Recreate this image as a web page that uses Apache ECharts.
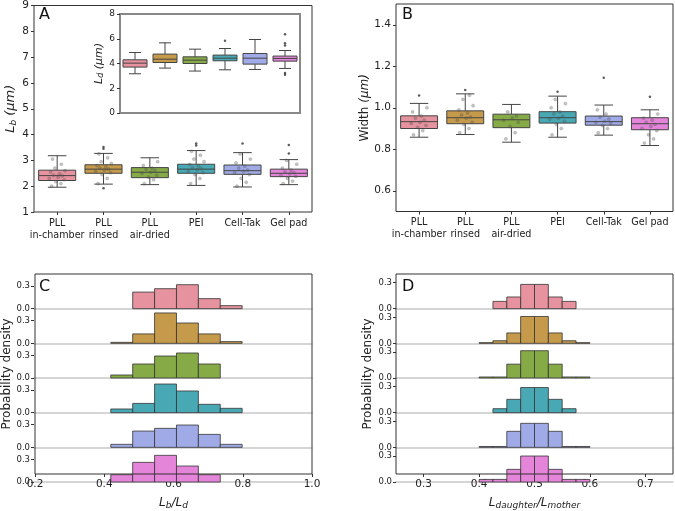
<!DOCTYPE html>
<html><head><meta charset="utf-8">
<script src="https://cdn.jsdelivr.net/npm/echarts@6/dist/echarts.min.js"></script>
<style>html,body{margin:0;padding:0;background:#fff}#c{width:675px;height:511px}</style>
</head><body><div id="c"></div>
<script>
// ---------- data ----------
const categories = ['PLL\nin-chamber','PLL\nrinsed','PLL\nair-dried','PEI','Cell-Tak','Gel pad'];
const palette = ['#e6929f','#c59a4b','#86aa46','#48a9b5','#a0aae6','#e585da'];
// [lower whisker, Q1, median, Q3, upper whisker]
const lbBox = [[1.96,2.22,2.41,2.62,3.18],[2.08,2.5,2.66,2.83,3.27],[2.06,2.33,2.54,2.72,3.1],[2.03,2.5,2.66,2.85,3.38],[1.97,2.46,2.6,2.82,3.3],[2.06,2.37,2.5,2.66,3.03]];
const lbOut = [[1,1.92],[1,3.45],[1,3.52],[3,3.58],[3,3.65],[4,3.65],[5,3.6],[5,3.27]];
const lbPoints = [
  [2.0, 2.1, 2.18, 2.25, 2.3, 2.35, 2.4, 2.42, 2.48, 2.55, 2.6, 2.7, 2.85, 3.05],
  [2.1, 2.3, 2.45, 2.52, 2.58, 2.62, 2.66, 2.7, 2.75, 2.8, 2.88, 2.95, 3.1, 3.25],
  [2.1, 2.25, 2.35, 2.42, 2.5, 2.55, 2.6, 2.65, 2.7, 2.8, 2.95],
  [2.1, 2.3, 2.45, 2.52, 2.58, 2.63, 2.68, 2.72, 2.78, 2.85, 2.95, 3.05, 3.2, 3.35],
  [2.0, 2.15, 2.3, 2.45, 2.52, 2.58, 2.62, 2.7, 2.78, 2.9, 3.05, 3.25],
  [2.1, 2.2, 2.3, 2.38, 2.42, 2.48, 2.52, 2.56, 2.62, 2.7, 2.85, 3.0]
];
const ldBox = [[3.17,3.71,4.03,4.3,4.89],[3.63,4.08,4.35,4.76,5.67],[3.39,4.0,4.27,4.54,5.16],[3.49,4.22,4.43,4.68,5.21],[3.52,3.95,4.43,4.81,5.94],[3.6,4.19,4.41,4.6,5.05]];
const ldOut = [[3,5.83],[5,6.37],[5,5.64],[5,5.45],[5,3.23],[5,3.1]];
const widthBox = [[0.858,0.90,0.933,0.961,1.021],[0.871,0.923,0.952,0.985,1.067],[0.834,0.904,0.942,0.969,1.016],[0.858,0.926,0.952,0.981,1.056],[0.868,0.916,0.933,0.96,1.013],[0.818,0.894,0.923,0.952,0.99]];
const widthOut = [[0,1.059],[1,1.085],[3,1.077],[4,1.145],[5,1.053]];
const widthPoints = [
  [0.87, 0.89, 0.905, 0.915, 0.925, 0.93, 0.94, 0.95, 0.96, 0.98, 1.0],
  [0.88, 0.9, 0.92, 0.93, 0.94, 0.95, 0.955, 0.965, 0.975, 0.99, 1.01, 1.04, 1.06],
  [0.85, 0.88, 0.91, 0.93, 0.94, 0.95, 0.96, 0.98],
  [0.87, 0.9, 0.92, 0.935, 0.945, 0.95, 0.96, 0.97, 0.98, 1.0, 1.02, 1.04],
  [0.88, 0.9, 0.915, 0.925, 0.93, 0.935, 0.945, 0.955, 0.97, 0.99],
  [0.83, 0.85, 0.87, 0.89, 0.9, 0.91, 0.92, 0.93, 0.94, 0.95, 0.97]
];
const stripJitter = [-0.12, 0.08, -0.03, 0.15, -0.17, 0.02, 0.11, -0.08, 0.05, -0.14, 0.17, -0.05, 0.09, -0.1];
const ratioEdges = [0.421,0.484,0.547,0.610,0.673,0.736,0.799];
const ratioHist = [
  [0, 0.22, 0.265, 0.318, 0.133, 0.04],
  [0.013, 0.125, 0.403, 0.27, 0.125, 0.023],
  [0.04, 0.186, 0.292, 0.332, 0.186, 0],
  [0.049, 0.123, 0.38, 0.288, 0.111, 0.058],
  [0.04, 0.216, 0.252, 0.296, 0.172, 0.04],
  [0.097, 0.261, 0.354, 0.212, 0.097, 0]
];
const divEdges = [0.400,0.425,0.450,0.475,0.500,0.525,0.550,0.575,0.600];
const divHist = [
  [0, 0.084, 0.135, 0.28, 0.28, 0.135, 0.084, 0],
  [0.008, 0.03, 0.12, 0.31, 0.31, 0.12, 0.03, 0.008],
  [0.012, 0.012, 0.16, 0.315, 0.315, 0.16, 0.012, 0.012],
  [0, 0.046, 0.154, 0.29, 0.29, 0.154, 0.046, 0],
  [0.01, 0.01, 0.185, 0.277, 0.277, 0.185, 0.01, 0.01],
  [0.03, 0.03, 0.146, 0.30, 0.30, 0.146, 0.03, 0.03]
];
const lbTicks = [1,2,3,4,5,6,7,8,9];
const ldTicks = [0,2,4,6,8];
const widthTicks = [0.6,0.8,1.0,1.2,1.4];
const ratioTicks = [0.2,0.4,0.6,0.8,1.0];
const divTicks = [0.3,0.4,0.5,0.6,0.7];
const densTicks = [0,0.3];

// ---------- style ----------
const FONT = 'DejaVu Sans';
const DARK = '#333';
const EDGE = '#444';
const lab = {fontFamily: FONT, fontSize: 10.5, color: '#222'};

const grid = [], xAxis = [], yAxis = [], series = [];

function boxRender(params, api) {
  const i = api.value(0);
  const bw = api.size([1, 0])[0];
  const w = bw * 0.8, cx = api.coord([i, 0])[0];
  const lo = api.coord([i, api.value(1)])[1];
  const q1 = api.coord([i, api.value(2)])[1];
  const md = api.coord([i, api.value(3)])[1];
  const q3 = api.coord([i, api.value(4)])[1];
  const hi = api.coord([i, api.value(5)])[1];
  const ls = {stroke: EDGE, lineWidth: 1};
  return {type: 'group', children: [
    {type: 'line', shape: {x1: cx, y1: hi, x2: cx, y2: q3}, style: ls},
    {type: 'line', shape: {x1: cx, y1: q1, x2: cx, y2: lo}, style: ls},
    {type: 'line', shape: {x1: cx - w/4, y1: hi, x2: cx + w/4, y2: hi}, style: ls},
    {type: 'line', shape: {x1: cx - w/4, y1: lo, x2: cx + w/4, y2: lo}, style: ls},
    {type: 'rect', shape: {x: cx - w/2, y: q3, width: w, height: q1 - q3}, style: {fill: palette[i], stroke: EDGE, lineWidth: 1}},
    {type: 'line', shape: {x1: cx - w/2, y1: md, x2: cx + w/2, y2: md}, style: ls}
  ]};
}
function stripRender(params, api) {
  const i = api.value(0), j = api.value(2);
  const bw = api.size([1, 0])[0];
  const p = api.coord([i, api.value(1)]);
  return {type: 'circle', shape: {cx: p[0] + j * bw, cy: p[1], r: 1.6},
    style: {fill: 'rgba(90,90,90,0.35)', stroke: 'rgba(60,60,60,0.3)', lineWidth: 0.5}};
}
function addBoxPanel(g, box, out, pts) {
  const gi = grid.length;
  grid.push(g.grid);
  xAxis.push({type: 'category', gridIndex: gi, data: categories,
    axisLine: {show: false}, axisTick: {show: g.xLabels, alignWithLabel: true, length: 3, lineStyle: {color: DARK}},
    axisLabel: Object.assign({show: g.xLabels, interval: 0, lineHeight: 12, margin: 5}, lab, {fontSize: 9.6})});
  yAxis.push({type: 'value', gridIndex: gi, min: g.min, max: g.max,
    splitLine: {show: false}, axisLine: {show: false},
    axisTick: {show: true, length: 3, lineStyle: {color: DARK}, customValues: g.ticks},
    axisLabel: Object.assign({customValues: g.ticks, margin: 5, formatter: g.fmt}, lab, {fontSize: g.tickSize || 10.5}),
    name: g.name, nameLocation: 'middle', nameGap: g.nameGap, nameRotate: 90,
    nameTextStyle: g.nameStyle});
  series.push({type: 'custom', xAxisIndex: gi, yAxisIndex: gi, renderItem: boxRender,
    data: box.map((b, i) => [i].concat(b)), z: 3});
  if (pts) {
    const sd = [];
    pts.forEach((arr, i) => arr.forEach((v, k) => sd.push([i, v, stripJitter[k % stripJitter.length]])));
    series.push({type: 'custom', xAxisIndex: gi, yAxisIndex: gi, renderItem: stripRender, data: sd, z: 4});
  }
  series.push({type: 'scatter', xAxisIndex: gi, yAxisIndex: gi, symbolSize: 2.5,
    itemStyle: {color: '#333'}, data: out, z: 5});
}

addBoxPanel({grid: {left: 34, top: 4, width: 278, height: 208, show: true, borderColor: DARK, borderWidth: 1},
  min: 1, max: 9, ticks: lbTicks, xLabels: true, fmt: v => String(v), nameGap: 16,
  name: '{i|L}{s|b} {i|(μm)}', nameStyle: {fontFamily: FONT, fontSize: 13, color: '#222',
    rich: {i: {fontStyle: 'italic', fontSize: 13, fontFamily: FONT}, s: {fontStyle: 'italic', fontSize: 9, fontFamily: FONT, padding: [6, 0, 0, 0]}}}}, lbBox, lbOut, lbPoints);
addBoxPanel({grid: {left: 120, top: 14, width: 180, height: 99, show: true, borderColor: '#888', borderWidth: 2, backgroundColor: '#fff'},
  min: 0, max: 8, ticks: ldTicks, xLabels: false, fmt: v => String(v), nameGap: 12, tickSize: 9,
  name: '{i|L}{s|d} {i|(μm)}', nameStyle: {fontFamily: FONT, fontSize: 11, color: '#222',
    rich: {i: {fontStyle: 'italic', fontSize: 11, fontFamily: FONT}, s: {fontStyle: 'italic', fontSize: 8, fontFamily: FONT, padding: [5, 0, 0, 0]}}}}, ldBox, ldOut, null);
addBoxPanel({grid: {left: 396, top: 4, width: 277, height: 207.5, show: true, borderColor: DARK, borderWidth: 1},
  min: 0.5, max: 1.5, ticks: widthTicks, xLabels: true, fmt: v => v.toFixed(1), nameGap: 22,
  name: 'Width {i|(μm)}', nameStyle: {fontFamily: FONT, fontSize: 12, color: '#222',
    rich: {i: {fontStyle: 'italic', fontSize: 12, fontFamily: FONT}}}}, widthBox, widthOut, widthPoints);

function histRender(params, api) {
  const a = api.coord([api.value(0), 0]);
  const b = api.coord([api.value(1), api.value(2)]);
  return {type: 'rect', shape: {x: a[0], y: b[1], width: b[0] - a[0], height: a[1] - b[1]},
    style: {fill: api.visual('color'), stroke: '#333', lineWidth: 0.8}};
}
function addHistPanel(left, width, xmin, xmax, xticks, ymax, edges, hist, xname) {
  const top0 = 274, rowH = 34.67;
  const fi = grid.length;
  grid.push({left: left, top: top0, width: width, height: rowH * 6, show: true, borderColor: DARK, borderWidth: 1, z: 5});
  xAxis.push({type: 'value', gridIndex: fi, min: xmin, max: xmax, splitLine: {show: false},
    axisLine: {show: false}, axisTick: {length: 3, lineStyle: {color: DARK}, customValues: xticks},
    axisLabel: Object.assign({customValues: xticks, margin: 5, formatter: v => v.toFixed(1)}, lab),
    name: xname, nameLocation: 'middle', nameGap: 21,
    nameTextStyle: {fontFamily: FONT, fontSize: 12, color: '#222',
      rich: {i: {fontStyle: 'italic', fontSize: 12, fontFamily: FONT}, s: {fontStyle: 'italic', fontSize: 9, fontFamily: FONT, padding: [6, 0, 0, 0]}}}});
  yAxis.push({type: 'value', gridIndex: fi, min: 0, max: 1, show: true, axisLine: {show: false}, axisTick: {show: false},
    axisLabel: {show: false}, splitLine: {show: false},
    name: 'Probability density', nameLocation: 'middle', nameGap: 22, nameTextStyle: {fontFamily: FONT, fontSize: 12, color: '#222'}});
  for (let r = 0; r < 6; r++) {
    const gi = grid.length;
    grid.push({left: left, top: top0 + r * rowH, width: width, height: rowH});
    xAxis.push({type: 'value', gridIndex: gi, min: xmin, max: xmax, splitLine: {show: false},
      axisLabel: {show: false}, axisTick: {show: false},
      axisLine: {show: true, onZero: false, lineStyle: {color: '#c8c8c8', width: 1.5}}});
    yAxis.push({type: 'value', gridIndex: gi, min: 0, max: ymax, splitLine: {show: false}, axisLine: {show: false},
      axisTick: {show: true, length: 3, lineStyle: {color: DARK}, customValues: densTicks},
      axisLabel: {customValues: densTicks, margin: 4, fontFamily: FONT, fontSize: 8.5, color: '#222', formatter: v => v.toFixed(1)}});
    const data = [];
    hist[r].forEach((h, k) => { if (h > 0) data.push([edges[k], edges[k + 1], h]); });
    series.push({type: 'custom', xAxisIndex: gi, yAxisIndex: gi, renderItem: histRender,
      itemStyle: {color: palette[r]}, data: data, z: 3});
  }
}
addHistPanel(34, 278, 0.2, 1.0, ratioTicks, 0.46, ratioEdges, ratioHist, '{i|L}{s|b}{i|/L}{s|d}');
addHistPanel(396, 277, 0.25, 0.75, divTicks, 0.40, divEdges, divHist, '{i|L}{s|daughter}{i|/L}{s|mother}');

const letters = [['A', 39, 7], ['B', 402, 7], ['C', 39, 279], ['D', 402, 279]];
const graphic = letters.map(l => ({type: 'text', left: l[1], top: l[2], z: 10,
  style: {text: l[0], fontFamily: FONT, fontSize: 16, fill: '#111'}}));

const chart = echarts.init(document.getElementById('c'), null, {renderer: 'canvas'});
chart.setOption({animation: false, backgroundColor: '#fff', grid, xAxis, yAxis, series, graphic});
</script></body></html>
